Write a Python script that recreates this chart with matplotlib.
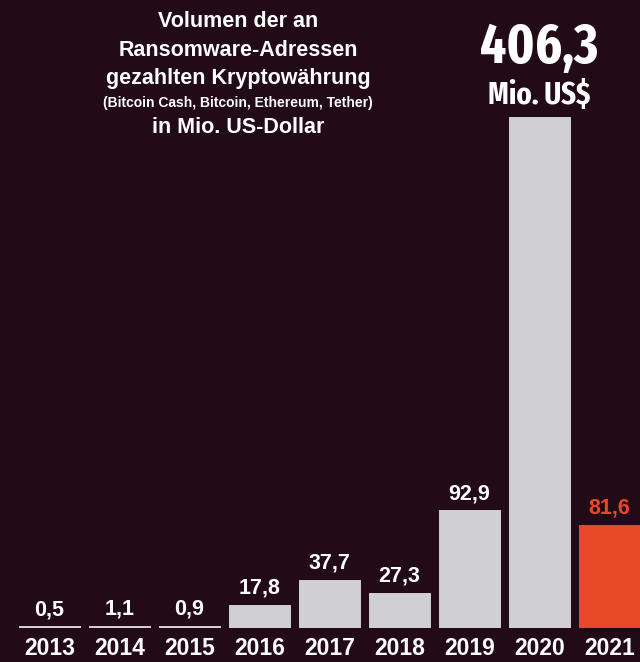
import matplotlib
matplotlib.use("Agg")
import matplotlib.pyplot as plt
from matplotlib import font_manager
from matplotlib.font_manager import FontProperties

years = ["2013", "2014", "2015", "2016", "2017", "2018", "2019", "2020", "2021"]
values = [0.5, 1.1, 0.9, 17.8, 37.7, 27.3, 92.9, 406.3, 81.6]
value_labels = ["0,5", "1,1", "0,9", "17,8", "37,7", "27,3", "92,9", "406,3", "81,6"]
title_lines = ["Volumen der an", "Ransomware-Adressen", "gezahlten Kryptowährung"]
title_sub = "(Bitcoin Cash, Bitcoin, Ethereum, Tether)"
title_unit = "in Mio. US-Dollar"
big_unit = "Mio. US$"

BG = "#230a17"
GRAY = "#d0d0d2"
RED = "#e84828"
WHITE = "#ffffff"

fl = font_manager.fontManager.ttflist
names = {f.name for f in fl}
MAIN = "Liberation Sans" if "Liberation Sans" in names else "DejaVu Sans"

# find the narrowest bold face installed for the big number
stretch_rank = {"ultra-condensed": 5, "extra-condensed": 4, "condensed": 3,
                "semi-condensed": 2}
def wnum(w):
    if isinstance(w, int):
        return w
    return {"bold": 700, "heavy": 800, "black": 900, "semibold": 600,
            "demibold": 600, "extra bold": 800}.get(str(w).lower(), 400)
best = None
best_score = -1
for f in fl:
    nm = f.name.lower()
    fn = f.fname.lower()
    if "mono" in nm or "cjk" in nm or "serif" in nm or "italic" in fn or f.style != "normal":
        continue
    r = stretch_rank.get(str(f.stretch), 0)
    if "extracondensed" in fn.replace("-", "").replace("_", ""):
        r = max(r, 4)
    elif "semicondensed" in fn.replace("-", ""):
        r = max(r, 2)
    elif "condensed" in fn or "narrow" in fn:
        r = max(r, 3)
    if r == 0:
        continue
    w = wnum(f.weight)
    if "bold" in fn and "semibold" not in fn and "extrabold" not in fn:
        w = max(w, 700)
    score = r * 10 - abs(w - 750) / 100
    if score > best_score:
        best_score = score
        best = f
if best is not None:
    BIGFP = FontProperties(fname=best.fname)
    big_size, unit_size = 40, 22.5
else:
    BIGFP = FontProperties(family=MAIN, weight="bold")
    big_size, unit_size = 34, 20

W, H = 640, 662
fig = plt.figure(figsize=(W / 100, H / 100), dpi=100, facecolor=BG)

base_px = 628
ax = fig.add_axes([0, (H - base_px) / H, 1, base_px / H])
ax.set_facecolor(BG)
ax.set_axis_off()
scale = 510 / 406.3
ax.set_ylim(0, base_px / scale)
ax.set_xlim(-49.5 / 70, 8 + (640 - 609.5) / 70)

colors = [GRAY] * (len(years) - 1) + [RED]
x = list(range(len(years)))
ax.bar(x, values, width=60 / 70, color=colors, edgecolor=colors, linewidth=1.4)

for i, (v, lab) in enumerate(zip(values, value_labels)):
    if i == 7:
        continue
    c = RED if i == len(years) - 1 else WHITE
    ax.annotate(lab, (i, v), xytext=(0, 8.8), textcoords="offset points",
                ha="center", va="baseline", color=c, fontsize=15.5,
                fontweight="bold", family=MAIN, annotation_clip=False)

for i, y in enumerate(years):
    ax.annotate(y, (i, 0), xytext=(0, -19.4), textcoords="offset points",
                ha="center", va="baseline", color=WHITE, fontsize=16.5,
                fontweight="bold", family=MAIN, annotation_clip=False)

# big label for 2020
ax.annotate(value_labels[7], (7, values[7]), xytext=(0, 39.5), textcoords="offset points",
            ha="center", va="baseline", color=WHITE, fontsize=big_size,
            fontproperties=BIGFP, annotation_clip=False)
ax.annotate(big_unit, (7, values[7]), xytext=(0, 10), textcoords="offset points",
            ha="center", va="baseline", color=WHITE, fontsize=unit_size,
            fontproperties=BIGFP, annotation_clip=False)

def fy(px):
    return 1 - px / H

cx = 238 / W
for line, yb in zip(title_lines, [27, 56, 84]):
    fig.text(cx, fy(yb), line, ha="center", va="baseline", color=WHITE,
             fontsize=15.5, fontweight="bold", family=MAIN)
fig.text(cx, fy(107), title_sub, ha="center", va="baseline", color=WHITE,
         fontsize=10, fontweight="bold", family=MAIN)
fig.text(cx, fy(133), title_unit, ha="center", va="baseline", color=WHITE,
         fontsize=15.5, fontweight="bold", family=MAIN)

fig.savefig("out.png", dpi=100, facecolor=BG)
